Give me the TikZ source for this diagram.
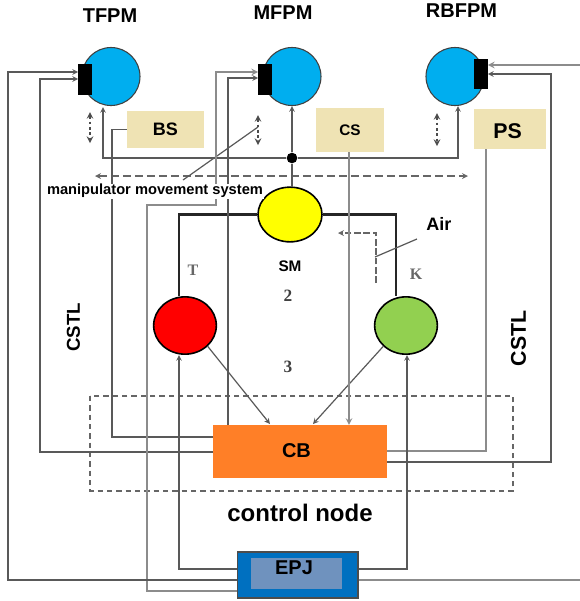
\documentclass[tikz,border=0pt]{standalone}
\usepackage{fontspec}
\setmainfont{Liberation Sans}
\newfontfamily\serifbold{Liberation Serif}
\usetikzlibrary{arrows.meta,positioning,shapes.geometric}
\definecolor{fpmblue}{HTML}{00AEEF}
\definecolor{sensorbox}{HTML}{EFE3B4}
\definecolor{cbfill}{HTML}{FF7F27}
\definecolor{epjblue}{HTML}{0070C0}
\definecolor{epjinner}{HTML}{6F92BE}
\definecolor{leafgreen}{HTML}{92D050}
\definecolor{smyellow}{HTML}{FFFF00}
\definecolor{tred}{HTML}{FF0000}
\newcommand{\fsize}[1]{\bfseries\fontsize{#1}{#1}\selectfont}
\tikzset{
  fpm/.style={ellipse, draw=black!75, fill=fpmblue, line width=0.8pt, minimum width=43.5pt, minimum height=43.5pt, inner sep=0pt},
  valve/.style={ellipse, draw=black, line width=1.2pt, minimum width=47pt, minimum height=43pt, inner sep=0pt},
  bar/.style={fill=black, minimum width=10pt, minimum height=23pt, inner sep=0pt},
  sensor/.style={fill=sensorbox, minimum width=#1, minimum height=30pt, inner sep=0pt},
  title/.style={font=\fsize{15}},
  wire/.style={draw=black!65, line width=0.9pt},
  lightwire/.style={draw=black!45, line width=1.2pt},
  heavywire/.style={draw=black!85, line width=1.7pt},
  dashwire/.style={draw=black!60, line width=1pt, dash pattern=on 6pt off 3pt},
  movearrow/.style={<->, black!70, line width=1.2pt, dash pattern=on 2pt off 2pt},
  serifmark/.style={font=\serifbold\fsize{#1}, text=black!60},
}
\begin{document}
\begin{tikzpicture}[x=0.75pt, y=-0.75pt, >=stealth]
    \useasboundingbox (0,0) rectangle (580,601);
    % dashed frame of the control node
    \draw[black!60, line width=1pt, dash pattern=on 4pt off 3pt] (90,396) rectangle (513,491);
    % muscles
    \node[fpm] (tfpm) at (111,76.5) {};
    \node[fpm] (mfpm) at (292,76.5) {};
    \node[fpm] (rbfpm) at (455,76.5) {};
    \node[bar] (tbar) at (85,79.5) {};
    \node[bar] (mbar) at (265,79.5) {};
    \node[bar] (rbar) at (481,74) {};
    \node[title] (tfpmname) at (110,15.5) {TFPM};
    \node[title] (mfpmname) at (283,12.5) {MFPM};
    \node[title] (rbfpmname) at (461.5,11) {RBFPM};
    % sensors
    \node[sensor=58pt, minimum height=28pt, font=\fsize{13.5}] (bs) at (165.5,129.5) {BS};
    \node[sensor=51pt, minimum height=33pt, font=\fsize{11.5}] (cs) at (350,130) {CS};
    \node[sensor=54pt] (ps) at (510,129) {};
    \node[font=\fsize{16}] (psname) at (507.5,131) {PS};
    % valves
    \node[valve, fill=smyellow, minimum width=48pt, minimum height=41pt] (sm) at (290,214.5) {};
    \node[valve, fill=tred] (t) at (185,325.5) {};
    \node[valve, fill=leafgreen] (k) at (406,325.5) {};
    \node[font=\fsize{11.5}] (smname) at (290,266) {SM};
    \node[serifmark=12] (tname) at (193,270) {T};
    \node[serifmark=12] (kname) at (416,274) {K};
    \node[serifmark=13, text=black!75] (two) at (288,296) {2};
    \node[serifmark=13, text=black!75] (three) at (288,367) {3};
    \node[font=\fsize{13.5}] (air) at (439,224) {Air};
    % controller and power unit
    \node[fill=cbfill, minimum width=130.5pt, minimum height=39.5pt, inner sep=0pt] (cb) at (300,451.5) {};
    \node[font=\fsize{15}] (cbname) at (296.5,451) {CB};
    \node[draw=black!70, line width=1pt, fill=epjblue, minimum width=90.5pt, minimum height=34.5pt, inner sep=0pt] (epj) at (297.5,575) {};
    \node[fill=epjinner, minimum width=68pt, minimum height=23pt, inner sep=0pt] (epjin) at (296.5,573.5) {};
    \node[font=\fsize{15}] (epjname) at (294,568) {EPJ};
    \node[font=\fsize{18}] (ctrl) at (300,513) {control node};
    \node[font=\fsize{14}, rotate=90] (cstll) at (73.5,327.5) {CSTL};
    \node[font=\fsize{16}, rotate=90] (cstlr) at (518.5,338.5) {CSTL};
    % junction and free ends
    \node[circle, fill=black, minimum size=8pt, inner sep=0pt] (dot) at (292,158) {};
    \coordinate (rightin) at (580,65);
    \coordinate (rightout) at (580,580);
    \coordinate (movel) at (95,176);
    \coordinate (mover) at (468,176);
    \coordinate (airend) at (376,283);
    \coordinate (airtip) at (338,233);
    \coordinate (airleadA) at (417,239);
    \coordinate (airleadB) at (375,257);
    \coordinate (leadA) at (258,127);
    \coordinate (leadB) at (183,180);
    % small movement arrows
    \draw[movearrow] (90,112) -- (90,143);
    \draw[movearrow] (258,115) -- (258,145);
    \draw[movearrow] (437,113) -- (437,146);
    \draw[<->, dashwire] (movel) -- (mover);
    % pneumatic supply
    \draw[wire, ->] (dot.west) -| (103,107);
    \draw[wire, ->] (dot) -- (mfpm.south -| dot);
    \draw[wire, ->] (dot.east) -| (458,106);
    \draw[wire] (dot) -- (sm.north -| dot);
    \draw[heavywire] (sm.west) -| (t.north -| 179,0);
    \draw[heavywire] (sm.east) -| (k.north -| 396,0);
    \draw[->, black!60, line width=1pt, dash pattern=on 5pt off 2pt] (airend) |- (airtip);
    \draw[wire] (airleadA) -- (airleadB);
    \draw[wire] (leadA) -- (leadB);
    % valve outputs into the controller
    \draw[wire, ->] (t.south east) -- (270,424);
    \draw[wire, ->] (k.south west) -- (313,424);
    % sensor signals
    \draw[wire, line width=1.2pt] (bs.west) -| (112,437) -- (cb.west |- 0,437);
    \draw[lightwire, ->] (cs.south -| 349,0) -- (cb.north -| 349,0);
    \draw[lightwire] (ps.south -| 486,0) |- (cb.east |- 0,451);
    % control signals
    \draw[wire, <-] (tbar.west |- 0,79) -| (40,452) -- (cb.west |- 0,452);
    \draw[lightwire, <-] (mbar.west |- 0,72) -| (216,205) -| (147,591) -- (epj.west |- 0,591);
    \draw[wire, <-] (mbar.west |- 0,78) -| (228,425);
    \draw[wire, <-] (rbar.east |- 0,74) -| (551,462) -- (cb.east |- 0,462);
    \draw[wire, ->] (epj.west |- 0,569) -| (179,355);
    \draw[wire, ->] (epj.east |- 0,569) -| (407,355);
    \draw[wire, <-] (tbar.west |- 0,72) -| (8,580) -- (epj.west |- 0,580);
    \draw[lightwire] (epj.east |- 0,580) -- (rightout);
    \draw[lightwire, ->] (rightin) -- (rbar.east |- 0,65);
    % label sits on a white patch over the wires
    \node[font=\fsize{11}, fill=white, inner xsep=1pt, inner ysep=0.5pt] (mms) at (155,191) {manipulator movement system};
  \end{tikzpicture}
\end{document}
